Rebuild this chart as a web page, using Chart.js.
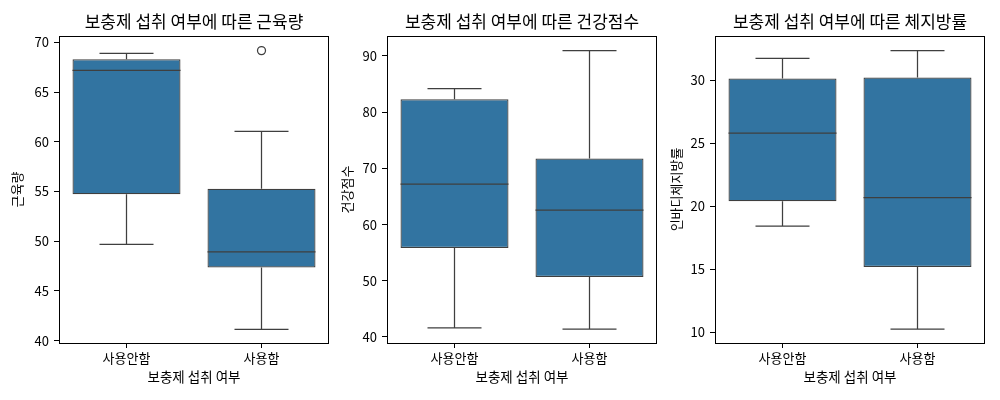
<!DOCTYPE html>
<html>
<head>
<meta charset="utf-8">
<script src="https://cdn.jsdelivr.net/npm/chart.js@4"></script>
<style>
    html, body { margin: 0; padding: 0; background: #ffffff; }
    #wrap { position: relative; width: 1000px; height: 400px; overflow: hidden; }
    .panel { position: absolute; top: 0; height: 400px; }
</style>
</head>
<body>
<div id="wrap">
    <div class="panel" style="left:0px;width:335px"><canvas id="muscleChart"></canvas></div>
    <div class="panel" style="left:335px;width:328px"><canvas id="healthChart"></canvas></div>
    <div class="panel" style="left:663px;width:337px"><canvas id="fatChart"></canvas></div>
</div>
<script>
// === DATA ===
const groups = ['사용안함', '사용함'];

const muscleLow  = [49.68, 41.13];
const muscleQ1   = [54.71, 47.36];
const muscleMed  = [67.18, 48.93];
const muscleQ3   = [68.29, 55.27];
const muscleHigh = [68.89, 61.05];
const muscleOut  = [null, 69.16];
const muscleTicks = [40, 45, 50, 55, 60, 65, 70];

const healthLow  = [41.60, 41.40];
const healthQ1   = [55.82, 50.67];
const healthMed  = [67.20, 62.57];
const healthQ3   = [82.30, 71.75];
const healthHigh = [84.19, 90.95];
const healthOut  = [null, null];
const healthTicks = [40, 50, 60, 70, 80, 90];

const fatLow  = [18.43, 10.27];
const fatQ1   = [20.41, 15.18];
const fatMed  = [25.80, 20.70];
const fatQ3   = [30.13, 30.21];
const fatHigh = [31.74, 32.35];
const fatOut  = [null, null];
const fatTicks = [10, 15, 20, 25, 30];

// === STYLE ===
const FONT      = "'Noto Sans CJK KR', 'Noto Sans', sans-serif";
const BOX_FILL  = '#3274a1';
const BOX_EDGE  = '#3f3f3f';
const LINE_W    = 1.25;

// whiskers, caps and medians drawn from the bar elements + y scale
const boxWhiskers = {
    id: 'boxWhiskers',
    afterDatasetsDraw(chart, args, opts) {
        const { ctx, scales: { y } } = chart;
        const meta = chart.getDatasetMeta(0);
        const boxes = chart.data.datasets[0].data;
        ctx.save();
        ctx.strokeStyle = BOX_EDGE;
        ctx.lineWidth   = LINE_W;
        meta.data.forEach((bar, i) => {
            const half = bar.width / 2;
            const cap  = half / 2;
            const yLow  = y.getPixelForValue(opts.low[i]);
            const yQ1   = y.getPixelForValue(boxes[i][0]);
            const yQ3   = y.getPixelForValue(boxes[i][1]);
            const yHigh = y.getPixelForValue(opts.high[i]);
            const yMed  = y.getPixelForValue(opts.med[i]);
            ctx.beginPath();
            ctx.moveTo(bar.x, yQ3);  ctx.lineTo(bar.x, yHigh);
            ctx.moveTo(bar.x - cap, yHigh); ctx.lineTo(bar.x + cap, yHigh);
            ctx.moveTo(bar.x, yQ1);  ctx.lineTo(bar.x, yLow);
            ctx.moveTo(bar.x - cap, yLow); ctx.lineTo(bar.x + cap, yLow);
            ctx.moveTo(bar.x - half, yMed); ctx.lineTo(bar.x + half, yMed);
            ctx.stroke();
        });
        ctx.restore();
    },
};

// axes frame (all four sides)
const frame = {
    id: 'frame',
    afterDraw(chart) {
        const { ctx, chartArea: a } = chart;
        ctx.save();
        ctx.strokeStyle = '#000000';
        ctx.lineWidth   = 1;
        ctx.strokeRect(Math.round(a.left) + 0.5, Math.round(a.top) + 0.5,
                       Math.round(a.right - a.left) - 1, Math.round(a.bottom - a.top));
        ctx.restore();
    },
};

function makeBoxChart(canvasId, p) {
    return new Chart(document.getElementById(canvasId).getContext('2d'), {
        type: 'bar',
        data: {
            labels: groups,
            datasets: [
                {
                    data:               p.q1.map((v, i) => [v, p.q3[i]]),
                    backgroundColor:    BOX_FILL,
                    borderColor:        BOX_EDGE,
                    borderWidth:        LINE_W,
                    borderSkipped:      false,
                    categoryPercentage: 0.8,
                    barPercentage:      1.0,
                },
                {
                    type:                 'line',
                    data:                 p.out,
                    showLine:             false,
                    pointRadius:          4,
                    pointBackgroundColor: 'rgba(0,0,0,0)',
                    pointBorderColor:     BOX_EDGE,
                    pointBorderWidth:     LINE_W,
                },
            ],
        },
        options: {
            responsive: true,
            maintainAspectRatio: false,
            animation: false,
            layout: { padding: { left: 0, right: p.padRight, top: 0, bottom: 0 } },
            plugins: {
                legend:  { display: false },
                tooltip: { enabled: false },
                title: {
                    display:   true,
                    text:      p.title,
                    fullSize:  false,
                    color:     '#000000',
                    font:      { family: FONT, size: 17, weight: 'normal', lineHeight: 1.2 },
                    padding:   { top: 11, bottom: 4.6 },
                },
                boxWhiskers: { low: p.low, med: p.med, high: p.high },
            },
            scales: {
                x: {
                    afterFit: scale => { scale.height = 57; },
                    grid:   { offset: false, drawOnChartArea: false, drawTicks: true, tickLength: 5, color: '#000000' },
                    border: { display: false },
                    ticks:  { color: '#000000', padding: 2, font: { family: FONT, size: 13 } },
                    title:  {
                        display: true,
                        text:    '보충제 섭취 여부',
                        color:   '#000000',
                        font:    { family: FONT, size: 13.5, lineHeight: 1.2 },
                        padding: { top: 0, bottom: 15 },
                    },
                },
                y: {
                    min: p.min,
                    max: p.max,
                    afterFit: scale => { scale.width = p.axisWidth; },
                    afterBuildTicks: scale => { scale.ticks = p.ticks.map(v => ({ value: v })); },
                    grid:   { drawOnChartArea: false, drawTicks: true, tickLength: 5, color: '#000000' },
                    border: { display: false },
                    ticks:  { color: '#000000', padding: 5, font: { family: FONT, size: 13 } },
                    title:  {
                        display: true,
                        text:    p.yTitle,
                        color:   '#000000',
                        font:    { family: FONT, size: 13, lineHeight: 1.2 },
                        padding: { top: p.yTitlePad, bottom: 0 },
                    },
                },
            },
        },
        plugins: [boxWhiskers, frame],
    });
}

makeBoxChart('muscleChart', {
    title: '보충제 섭취 여부에 따른 근육량', yTitle: '근육량',
    low: muscleLow, q1: muscleQ1, med: muscleMed, q3: muscleQ3, high: muscleHigh, out: muscleOut,
    ticks: muscleTicks, min: 39.77, max: 70.63,
    axisWidth: 59, padRight: 6, yTitlePad: 9,
});

makeBoxChart('healthChart', {
    title: '보충제 섭취 여부에 따른 건강점수', yTitle: '건강점수',
    low: healthLow, q1: healthQ1, med: healthMed, q3: healthQ3, high: healthHigh, out: healthOut,
    ticks: healthTicks, min: 38.93, max: 93.55,
    axisWidth: 52, padRight: 6, yTitlePad: 4,
});

makeBoxChart('fatChart', {
    title: '보충제 섭취 여부에 따른 체지방률', yTitle: '인바디체지방률',
    low: fatLow, q1: fatQ1, med: fatMed, q3: fatQ3, high: fatHigh, out: fatOut,
    ticks: fatTicks, min: 9.16, max: 33.51,
    axisWidth: 52, padRight: 15, yTitlePad: 5,
});
</script>
</body>
</html>
